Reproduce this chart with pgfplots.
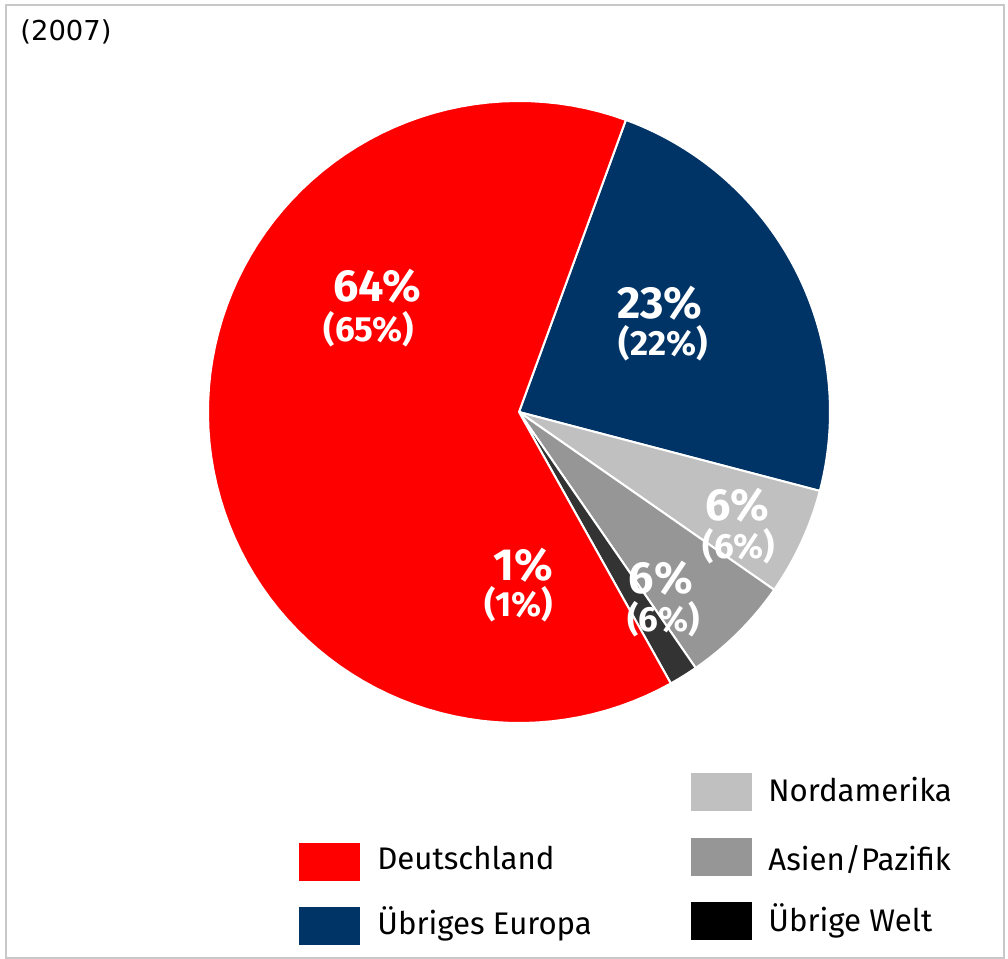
\documentclass[border=0pt]{standalone}
\usepackage{pgfplots}
\pgfplotsset{compat=1.18}
\usepackage{fontspec}
\setmainfont{Fira Sans}
\newfontfamily\yearfont{DejaVu Sans}

\definecolor{deu}{RGB}{255,0,0}
\definecolor{eur}{RGB}{0,51,102}
\definecolor{nam}{RGB}{192,192,192}
\definecolor{asp}{RGB}{150,150,150}
\definecolor{rest}{RGB}{51,51,51}
\definecolor{frame}{RGB}{200,200,200}

% pie slice: cumulative share from #1 to #2 (percent), clockwise from 69.9 deg
\newcommand{\slice}[3]{%
  \addplot[fill=#3, draw=white, line width=1pt, line join=round,
    domain=#1:#2, samples=90, variable=\t]
    ({519+311*cos(69.9-3.6*\t)}, {412-311*sin(69.9-3.6*\t)})
    -- (axis cs:519,412) -- cycle;}

\begin{document}
\begin{tikzpicture}
\begin{axis}[
    scale only axis,
    width=504pt, height=479.5pt,
    xmin=0, xmax=1008, ymin=0, ymax=959,
    y dir=reverse,
    hide axis,
    clip=false,
]
\path (axis cs:0,0) rectangle (axis cs:1008,959);
\draw[frame, line width=1pt] (axis cs:6,5) rectangle (axis cs:1004,958);

% shares: Europa 23.5, Nordamerika 5.6, Asien/Pazifik 5.7, Uebrige Welt 1.5, Deutschland 63.7
\slice{0}{23.5}{eur}
\slice{23.5}{29.1}{nam}
\slice{29.1}{34.8}{asp}
\slice{34.8}{36.3}{rest}
\slice{36.3}{100}{deu}

\node[anchor=base west, inner sep=0pt, font=\yearfont\fontsize{13.7}{15}\selectfont] at (axis cs:20,40.7) {(2007)};

\begin{scope}[every node/.style={anchor=base, text=white, inner sep=0pt}]
\node[font=\bfseries\fontsize{22.5}{24}\selectfont] at (axis cs:377,301.7) {64\%};
\node[font=\bfseries\fontsize{17.5}{19}\selectfont] at (axis cs:369,341) {(65\%)};
\node[font=\bfseries\fontsize{22.5}{24}\selectfont] at (axis cs:660,318.3) {23\%};
\node[font=\bfseries\fontsize{17.5}{19}\selectfont] at (axis cs:663.3,355) {(22\%)};
\node[font=\bfseries\fontsize{22.5}{24}\selectfont] at (axis cs:737.5,520.7) {6\%};
\node[font=\bfseries\fontsize{17.5}{19}\selectfont] at (axis cs:739,558) {(6\%)};
\node[font=\bfseries\fontsize{22.5}{24}\selectfont] at (axis cs:660.8,593.3) {6\%};
\node[font=\bfseries\fontsize{17.5}{19}\selectfont] at (axis cs:663.3,631) {(6\%)};
\node[font=\bfseries\fontsize{22.5}{24}\selectfont] at (axis cs:523.3,580) {1\%};
\node[font=\bfseries\fontsize{17.5}{19}\selectfont] at (axis cs:519,616) {(1\%)};
\end{scope}

% legend
\fill[deu] (axis cs:299,843) rectangle (axis cs:360,881);
\fill[eur] (axis cs:299,907) rectangle (axis cs:360,945);
\fill[nam] (axis cs:691,773) rectangle (axis cs:752,811);
\fill[asp] (axis cs:691,838) rectangle (axis cs:752,876);
\fill[black] (axis cs:691,902) rectangle (axis cs:752,940);
\begin{scope}[every node/.style={anchor=base west, inner sep=0pt, font=\fontsize{15.6}{17}\selectfont}]
\node at (axis cs:377,869.3) {Deutschland};
\node at (axis cs:377,934) {Übriges Europa};
\node at (axis cs:768,801.7) {Nordamerika};
\node at (axis cs:768,870) {Asien/Pazifik};
\node at (axis cs:768,931.7) {Übrige Welt};
\end{scope}
\end{axis}
\end{tikzpicture}
\end{document}
